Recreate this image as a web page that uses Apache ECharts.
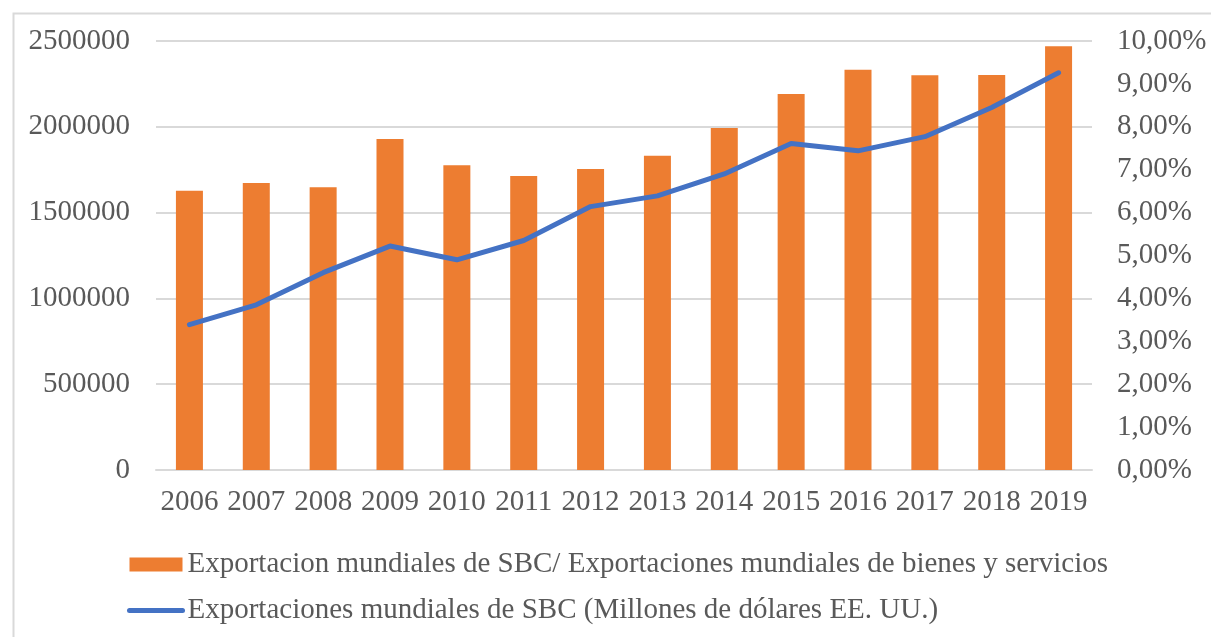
<!DOCTYPE html>
<html>
<head>
<meta charset="utf-8">
<script src="https://cdn.jsdelivr.net/npm/echarts@6/dist/echarts.min.js"></script>
<style>html,body{margin:0;padding:0;background:#fff;}#c{width:1211px;height:637px;}</style>
</head>
<body>
<div id="c"></div>
<script>
const years = ['2006','2007','2008','2009','2010','2011','2012','2013','2014','2015','2016','2017','2018','2019'];
const barValues = [1627000, 1672000, 1647000, 1929000, 1776000, 1713000, 1754000, 1832000, 1993000, 2191000, 2333000, 2300000, 2302000, 2469000];
const lineValues = [3.39, 3.85, 4.60, 5.22, 4.90, 5.35, 6.14, 6.39, 6.90, 7.61, 7.44, 7.77, 8.45, 9.26];
const barName = 'Exportacion mundiales de SBC/ Exportaciones mundiales de bienes y servicios';
const lineName = 'Exportaciones mundiales de SBC (Millones de dólares EE. UU.)';

const font = 'Liberation Serif';
const txt = '#595959';
const fs = 29;
const chart = echarts.init(document.getElementById('c'), null, {renderer: 'canvas'});
chart.setOption({
  animation: false,
  backgroundColor: '#fff',
  graphic: [{
    type: 'rect', left: 11, top: 11,
    shape: {width: 1300, height: 700},
    style: {fill: 'none', stroke: '#d9d9d9', lineWidth: 2},
    silent: true, z: -1
  }],
  grid: {left: 156, right: 119, top: 41, bottom: 167, containLabel: false},
  legend: {
    orient: 'vertical', left: 122, top: 545, itemGap: 17,
    itemWidth: 53, itemHeight: 14,
    textStyle: {fontFamily: font, fontSize: fs, color: txt},
    lineStyle: {width: 5, cap: 'round'},
    data: [
      {name: barName, icon: 'rect'},
      {name: lineName, itemStyle: {color: 'rgba(0,0,0,0)', borderWidth: 0}}
    ]
  },
  xAxis: {
    type: 'category', data: years,
    axisLine: {show: true, lineStyle: {color: '#d9d9d9', width: 2}},
    axisTick: {show: false},
    axisLabel: {fontFamily: font, fontSize: fs, color: txt, margin: 18, interval: 0}
  },
  yAxis: [{
    type: 'value', min: 0, max: 2500000, interval: 500000,
    axisLine: {show: false}, axisTick: {show: false},
    splitLine: {lineStyle: {color: '#d9d9d9', width: 2}},
    axisLabel: {fontFamily: font, fontSize: fs, color: txt, margin: 26, formatter: v => String(v)}
  }, {
    type: 'value', min: 0, max: 10, interval: 1, position: 'right',
    axisLine: {show: false}, axisTick: {show: false},
    splitLine: {show: false},
    axisLabel: {fontFamily: font, fontSize: fs, color: txt, margin: 25,
      formatter: v => v.toFixed(2).replace('.', ',') + '%'}
  }],
  series: [{
    name: barName, type: 'bar', data: barValues, yAxisIndex: 0,
    barWidth: 27, itemStyle: {color: '#ED7D31'}
  }, {
    name: lineName, type: 'line', data: lineValues, yAxisIndex: 1,
    symbol: 'none', lineStyle: {color: '#4472C4', width: 5, cap: 'round', join: 'round'},
    itemStyle: {color: '#4472C4'}
  }]
});
</script>
</body>
</html>
